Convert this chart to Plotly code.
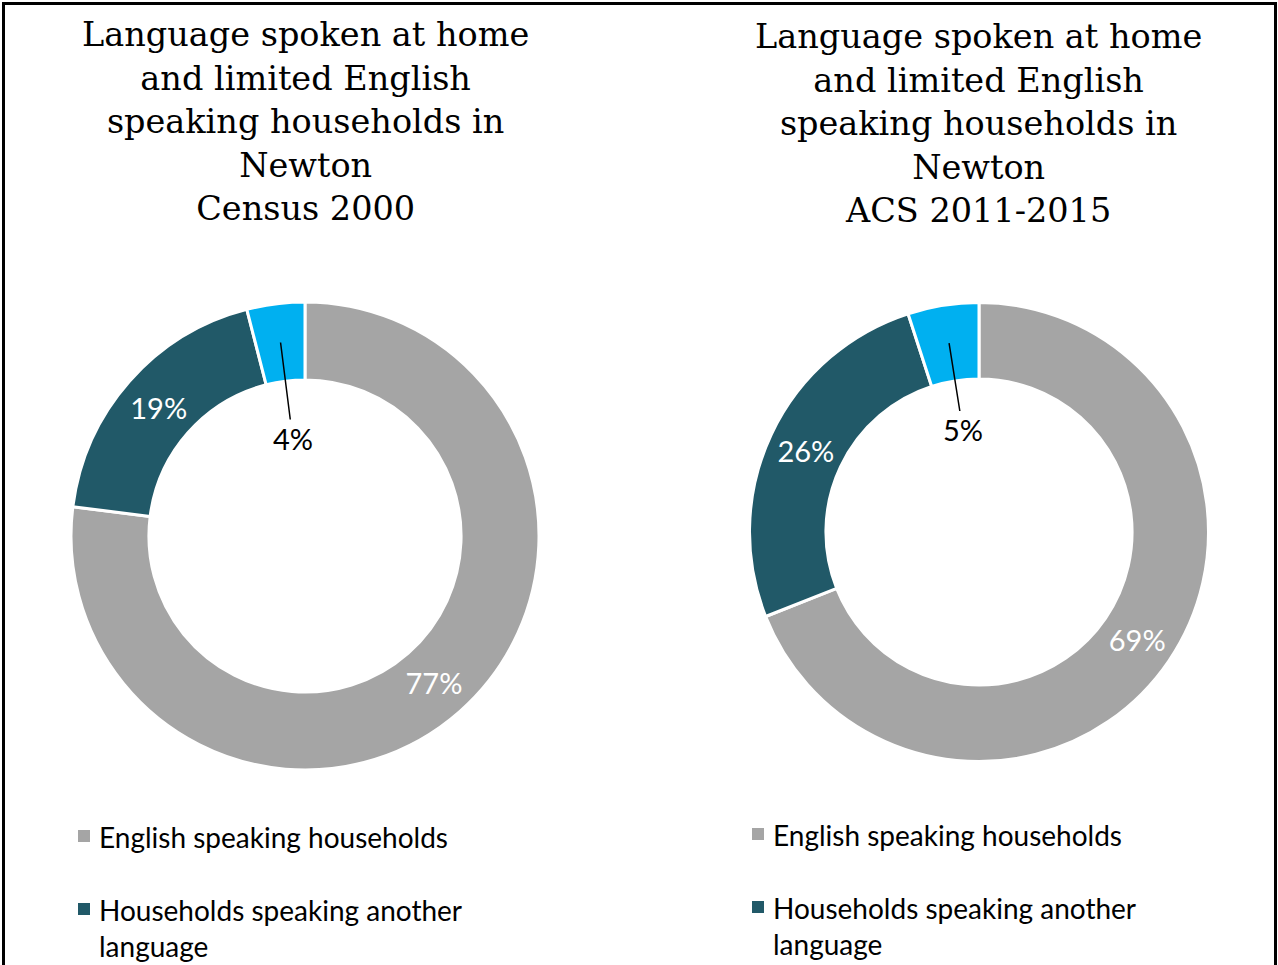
import math
import plotly.graph_objects as go

# ---- data ----
categories = ["English speaking households",
              "Households speaking another language",
              "Limited English speaking households"]
values_2000 = [77, 19, 4]
values_acs = [69, 26, 5]
title_2000 = "Language spoken at home<br>and limited English<br>speaking households in<br>Newton<br>Census 2000"
title_acs = "Language spoken at home<br>and limited English<br>speaking households in<br>Newton<br>ACS 2011-2015"
legend_labels = ["English speaking households",
                 "Households speaking another<br>language"]
colors = ["#A5A5A5", "#215968", "#00B0F0"]

W, H = 1278, 965
HOLE = 0.667

def px_x(p):
    return p / W

def px_y(p):
    return 1 - p / H

# donut geometry (pixel centre and radius)
donuts = [
    dict(vals=values_2000, cx=305, cy=536, r=234, title=title_2000, ty=122,
         lx=78, ly=[836, 909], rt=0.42),
    dict(vals=values_acs, cx=979, cy=532, r=229.5, title=title_acs, ty=124,
         lx=752, ly=[834, 907], rt=0.45),
]

fig = go.Figure()
annotations = []
shapes = []

for d in donuts:
    vals = d["vals"]
    texts = [f"{v}%" for v in vals[:2]] + [""]
    fig.add_trace(go.Pie(
        labels=categories, values=vals, hole=HOLE, sort=False,
        direction="clockwise", rotation=0,
        marker=dict(colors=colors, line=dict(color="white", width=3)),
        text=texts, textinfo="text", textposition="inside",
        insidetextorientation="horizontal",
        textfont=dict(color="white", size=29, family="Lato"),
        showlegend=False, hoverinfo="label+value",
        domain=dict(x=[px_x(d["cx"] - d["r"]), px_x(d["cx"] + d["r"])],
                    y=[px_y(d["cy"] + d["r"]), px_y(d["cy"] - d["r"])]),
    ))
    # label for small slice, pointing into the hole
    total = sum(vals)
    mid = (sum(vals[:2]) + vals[2] / 2) / total
    ang = 2 * math.pi * mid
    r_mid = d["r"] * (1 + HOLE) / 2
    hx = d["cx"] + r_mid * math.sin(ang)
    hy = d["cy"] - r_mid * math.cos(ang)
    r_txt = d["r"] * d["rt"]
    tx = d["cx"] + r_txt * math.sin(ang)
    ty = d["cy"] - r_txt * math.cos(ang)
    annotations.append(dict(
        x=px_x(hx), y=px_y(hy), xref="paper", yref="paper",
        ax=tx - hx, ay=ty - hy, axref="pixel", ayref="pixel",
        text=f"{vals[2]}%", showarrow=True, arrowhead=0, arrowwidth=1.5,
        arrowcolor="black", standoff=0, startstandoff=0,
        font=dict(family="Lato", size=29, color="black"),
    ))
    # title
    annotations.append(dict(
        x=px_x(d["cx"]), y=px_y(d["ty"]), xref="paper", yref="paper",
        xanchor="center", yanchor="middle", showarrow=False,
        text=d["title"], align="center",
        font=dict(family="DejaVu Serif", size=33.5, color="black"),
    ))
    # legend (first two entries visible)
    for i, lab in enumerate(legend_labels):
        sy = d["ly"][i]
        shapes.append(dict(type="rect", xref="paper", yref="paper",
                           x0=px_x(d["lx"]), x1=px_x(d["lx"] + 12),
                           y0=px_y(sy + 6), y1=px_y(sy - 6),
                           fillcolor=colors[i], line=dict(width=0)))
        annotations.append(dict(
            x=px_x(d["lx"] + 19), y=px_y(sy - 18), xref="paper", yref="paper",
            xanchor="left", yanchor="top", showarrow=False, align="left",
            text=lab, font=dict(family="Lato", size=28, color="black"),
        ))

# outer frame (bottom edge is cut off)
shapes.append(dict(type="path", xref="paper", yref="paper",
                   path=f"M {px_x(3.5)},{px_y(H + 10)} L {px_x(3.5)},{px_y(3.5)} "
                        f"L {px_x(1275.5)},{px_y(3.5)} L {px_x(1275.5)},{px_y(H + 10)}",
                   line=dict(color="black", width=3)))

fig.update_layout(
    width=W, height=H, margin=dict(l=0, r=0, t=0, b=0),
    paper_bgcolor="white", plot_bgcolor="white",
    annotations=annotations, shapes=shapes,
)

fig.write_html("out.html", config={"displayModeBar": False},
               post_script="document.body.style.margin='0px';"
                           "document.body.style.overflow='hidden';")
